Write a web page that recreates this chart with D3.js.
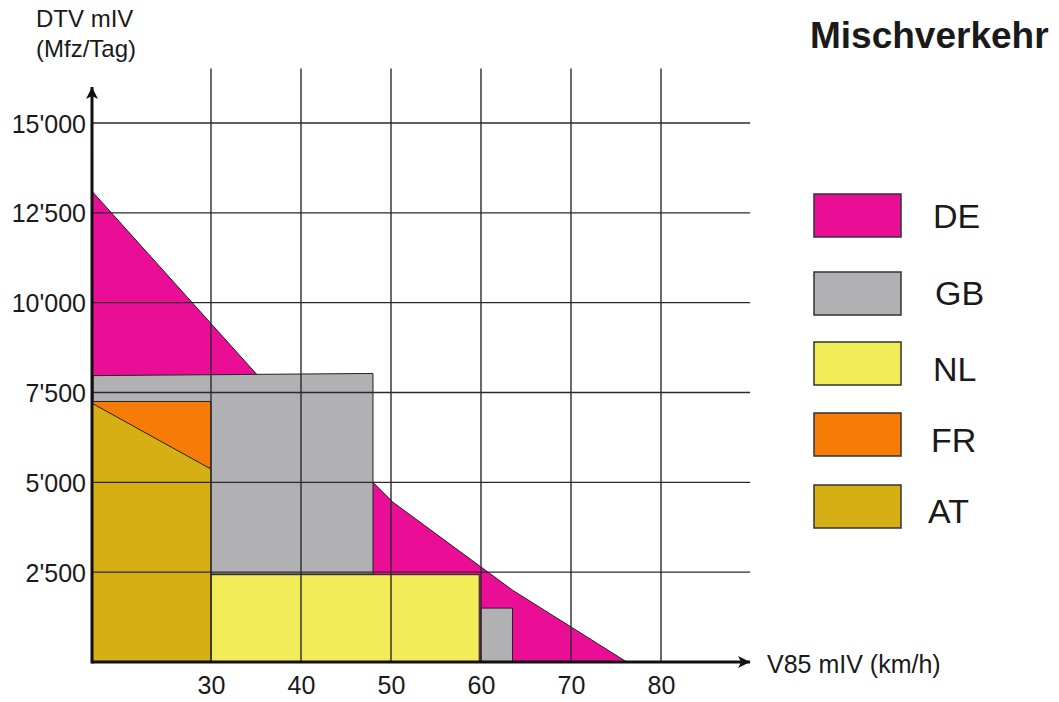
<!DOCTYPE html>
<html>
<head>
<meta charset="utf-8">
<script src="https://cdn.jsdelivr.net/npm/d3@7"></script>
<style>
  body { margin: 0; background: #fff; }
  svg { display: block; font-family: Arial, "Liberation Sans", Helvetica, sans-serif; }
</style>
</head>
<body>
<svg id="chart" width="1059" height="702"></svg>
<script>
// ---- data ----
const countries = ["DE", "GB", "NL", "FR", "AT"];
const countryColors = ["#EA0E97", "#B1B1B3", "#F2EC58", "#F67B07", "#D5AF14"];
// polygons in data coordinates [V85 km/h, DTV Mfz/Tag]
const deArea = [[16.78, 0], [16.78, 13100], [35.1, 8000], [48, 5000], [50.2, 4450], [63.5, 2000], [76.2, 0]];
const gbArea = [[16.9, 2450], [16.9, 7970], [48, 8030], [48, 2450]];
const gbArea2 = [[60, 0], [60, 1500], [63.5, 1500], [63.5, 0]];
const nlArea = [[30, 0], [30, 2430], [59.8, 2430], [59.8, 0]];
const frArea = [[16.78, 5400], [16.78, 7250], [30, 7250], [30, 5400]];
const atArea = [[16.78, 0], [16.78, 7200], [30, 5370], [30, 0]];
const xTicks = [30, 40, 50, 60, 70, 80];
const yTicks = [2500, 5000, 7500, 10000, 12500, 15000];
const yTickLabels = ["2'500", "5'000", "7'500", "10'000", "12'500", "15'000"];
const title = "Mischverkehr";
const xTitle = "V85 mIV (km/h)";
const yTitle = ["DTV mIV", "(Mfz/Tag)"];

// ---- chart ----
const svg = d3.select("#chart");
const x = d3.scaleLinear().domain([16.78, 80]).range([92, 661]);
const y = d3.scaleLinear().domain([0, 15000]).range([662, 123]);
const xEnd = 89.9;
const textColor = "#1a1a1a";

const shapes = [
  { pts: deArea, c: 0 },
  { pts: gbArea, c: 1 },
  { pts: gbArea2, c: 1 },
  { pts: nlArea, c: 2 },
  { pts: frArea, c: 3 },
  { pts: atArea, c: 4 }
];
const line = d3.line().x(d => x(d[0])).y(d => y(d[1]));
svg.append("g").selectAll("path").data(shapes).join("path")
  .attr("d", d => line(d.pts) + "Z")
  .attr("fill", d => countryColors[d.c])
  .attr("stroke", "#222")
  .attr("stroke-width", 1)
  .attr("stroke-linejoin", "miter");

// grid
const grid = svg.append("g").attr("stroke", "#2a2a2a").attr("stroke-width", 1.4);
grid.selectAll("line.v").data(xTicks).join("line").attr("class", "v")
  .attr("x1", d => x(d)).attr("x2", d => x(d))
  .attr("y1", y(16520)).attr("y2", y(0));
grid.selectAll("line.h").data(yTicks).join("line").attr("class", "h")
  .attr("x1", x(16.78)).attr("x2", x(xEnd))
  .attr("y1", d => y(d)).attr("y2", d => y(d));

// axes with arrows
const defs = svg.append("defs");
defs.append("marker").attr("id", "arrow")
  .attr("viewBox", "0 0 10 10").attr("refX", 10).attr("refY", 5)
  .attr("markerUnits", "userSpaceOnUse")
  .attr("markerWidth", 14).attr("markerHeight", 12).attr("orient", "auto")
  .append("path").attr("d", "M0,0 L10,5 L0,10 L2.5,5 Z").attr("fill", "#111");

svg.append("line")
  .attr("x1", x(16.78)).attr("x2", x(xEnd))
  .attr("y1", y(0)).attr("y2", y(0))
  .attr("stroke", "#111").attr("stroke-width", 3)
  .attr("marker-end", "url(#arrow)");
svg.append("line")
  .attr("x1", x(16.78)).attr("x2", x(16.78))
  .attr("y1", y(0) + 1.5).attr("y2", y(16000))
  .attr("stroke", "#111").attr("stroke-width", 3)
  .attr("marker-end", "url(#arrow)");

const xAxis = svg.append("g").attr("transform", `translate(0,${y(0)})`)
  .call(d3.axisBottom(x).tickValues(xTicks).tickSize(0).tickPadding(14));
const yAxis = svg.append("g").attr("transform", `translate(${x(16.78)},0)`)
  .call(d3.axisLeft(y).tickValues(yTicks).tickSize(0).tickPadding(6)
    .tickFormat((d, i) => yTickLabels[i]));
[xAxis, yAxis].forEach(g => {
  g.select(".domain").remove();
  g.selectAll("text").attr("font-size", 25).attr("font-family", "Arial, 'Liberation Sans', sans-serif").attr("fill", textColor);
});
yAxis.selectAll("text").attr("dy", "0.36em");

// axis titles
svg.append("text").attr("x", 767).attr("y", 673)
  .attr("font-size", 25).attr("fill", textColor).text(xTitle);
svg.append("g").selectAll("text").data(yTitle).join("text")
  .attr("x", 36).attr("y", (d, i) => 27 + i * 30)
  .attr("font-size", 24).attr("fill", textColor).text(d => d);

// title
svg.append("text").attr("x", 810).attr("y", 48)
  .attr("font-size", 37).attr("font-weight", "bold").attr("fill", textColor).text(title);

// legend
const legendTop = [194, 272, 342, 413, 485];
const legendTextX = [933, 935, 933, 931, 928];
const legendBase = [228, 305, 381, 452, 523];
const lg = svg.append("g");
lg.selectAll("rect").data(countries).join("rect")
  .attr("x", 814).attr("y", (d, i) => legendTop[i])
  .attr("width", 87).attr("height", 43)
  .attr("fill", (d, i) => countryColors[i])
  .attr("stroke", "#333").attr("stroke-width", 1.5);
lg.selectAll("text").data(countries).join("text")
  .attr("x", (d, i) => legendTextX[i]).attr("y", (d, i) => legendBase[i])
  .attr("font-size", 34).attr("fill", textColor).text(d => d);
</script>
</body>
</html>
